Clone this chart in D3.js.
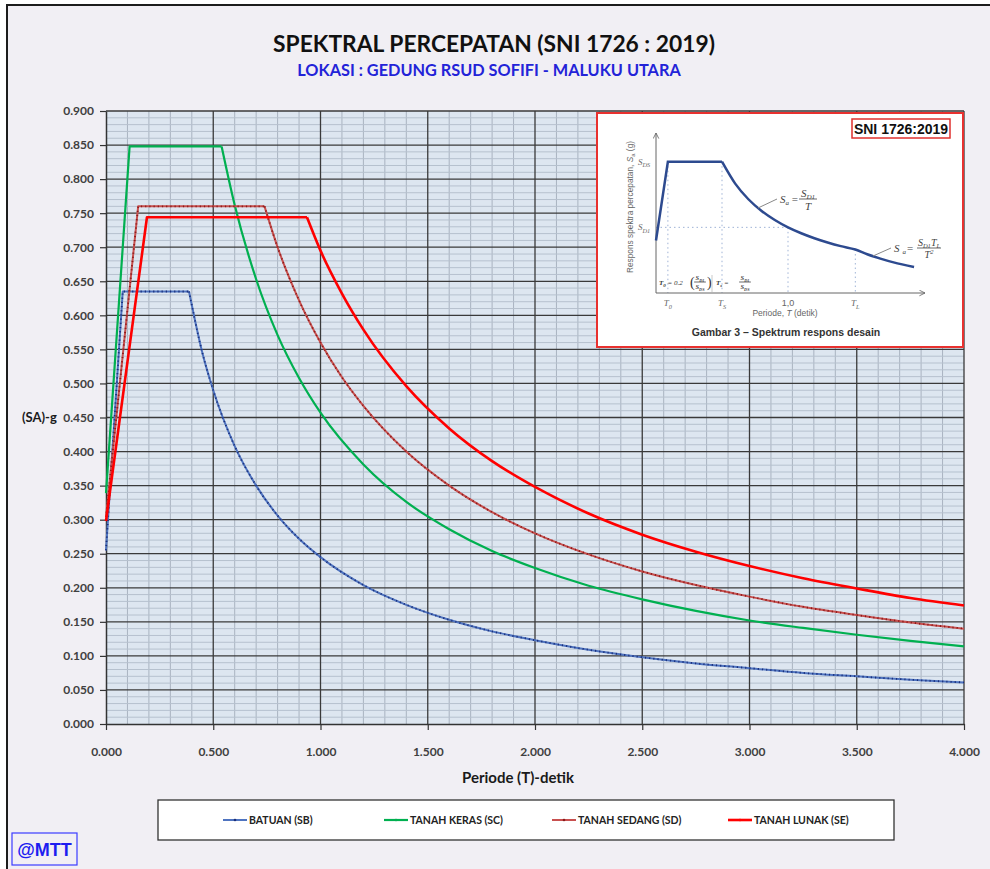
<!DOCTYPE html>
<html>
<head>
<meta charset="utf-8">
<script src="https://cdn.jsdelivr.net/npm/d3@7"></script>
<style>
  body { margin: 0; background: #ffffff; }
  svg { display: block; font-family: Lato, "Open Sans", sans-serif; }
</style>
</head>
<body>
<svg id="chart" width="990" height="869"></svg>
<script>
// [A] Data --------------------------------------------------------------------
const chartTitle = "SPEKTRAL PERCEPATAN (SNI 1726 : 2019)";
const chartSubtitle = "LOKASI : GEDUNG RSUD SOFIFI - MALUKU UTARA";
const seriesNames = ["BATUAN (SB)", "TANAH KERAS (SC)", "TANAH SEDANG (SD)", "TANAH LUNAK (SE)"];

// [T, SA] pairs; first three points = start, T0, Ts
const batuanSB = [[0, 0.255], [0.078, 0.635], [0.387, 0.635], [0.45, 0.544], [0.5, 0.490], [0.6, 0.408],
  [0.7, 0.350], [0.8, 0.306], [0.9, 0.272], [1.0, 0.245], [1.2, 0.204], [1.4, 0.175], [1.6, 0.153],
  [1.8, 0.136], [2.0, 0.123], [2.25, 0.109], [2.5, 0.098], [2.75, 0.089], [3.0, 0.082], [3.25, 0.075],
  [3.5, 0.070], [3.75, 0.065], [4.0, 0.061]];
const tanahKerasSC = [[0, 0.339], [0.110, 0.848], [0.539, 0.848], [0.6, 0.762], [0.7, 0.653], [0.8, 0.571],
  [0.9, 0.508], [1.0, 0.457], [1.2, 0.381], [1.4, 0.326], [1.6, 0.286], [1.8, 0.254], [2.0, 0.229],
  [2.25, 0.203], [2.5, 0.183], [2.75, 0.166], [3.0, 0.152], [3.25, 0.141], [3.5, 0.131], [3.75, 0.122],
  [4.0, 0.114]];
const tanahSedangSD = [[0, 0.304], [0.150, 0.760], [0.739, 0.760], [0.8, 0.700], [0.9, 0.622], [1.0, 0.560],
  [1.1, 0.509], [1.2, 0.467], [1.4, 0.400], [1.6, 0.350], [1.8, 0.311], [2.0, 0.280], [2.25, 0.249],
  [2.5, 0.224], [2.75, 0.204], [3.0, 0.187], [3.25, 0.172], [3.5, 0.160], [3.75, 0.149], [4.0, 0.140]];
const tanahLunakSE = [[0, 0.298], [0.191, 0.744], [0.937, 0.744], [1.0, 0.695], [1.1, 0.632], [1.2, 0.579],
  [1.4, 0.496], [1.6, 0.434], [1.8, 0.386], [2.0, 0.348], [2.25, 0.309], [2.5, 0.278], [2.75, 0.253],
  [3.0, 0.232], [3.25, 0.214], [3.5, 0.199], [3.75, 0.185], [4.0, 0.174]];

const xTicks = [0, 0.5, 1.0, 1.5, 2.0, 2.5, 3.0, 3.5, 4.0];
const yTicks = [0, 0.05, 0.10, 0.15, 0.20, 0.25, 0.30, 0.35, 0.40, 0.45, 0.50, 0.55, 0.60, 0.65, 0.70,
  0.75, 0.80, 0.85, 0.90];

// schematic design spectrum of the inset (T, Sa/SDS)
const insetCurve = [[0, 0.40], [0.09, 1.0], [0.5, 1.0], [0.6, 0.833], [0.7, 0.714], [0.8, 0.625],
  [0.9, 0.556], [1.0, 0.5], [1.1, 0.455], [1.2, 0.417], [1.3, 0.385], [1.4, 0.357], [1.51, 0.331],
  [1.6, 0.295], [1.7, 0.262], [1.8, 0.233], [1.955, 0.198]];
const insetMarks = { T0: 0.09, Ts: 0.5, one: 1.0, TL: 1.51, SDS: 1.0, SD1: 0.5 };

// [B] Layout ------------------------------------------------------------------
const width = 990;
const height = 869;
const plot = { left: 106, right: 964, top: 111, bottom: 724 };

const svg = d3.select("#chart");

const x = d3.scaleLinear().domain([0, 4]).range([plot.left, plot.right]);
const y = d3.scaleLinear().domain([0, 0.9]).range([plot.bottom, plot.top]);

const seriesStyle = [
  { data: batuanSB, color: "#4f74c0", dots: "#1b2f7a", w: 2 },
  { data: tanahKerasSC, color: "#00b050", dots: null, w: 2.2 },
  { data: tanahSedangSD, color: "#c8504f", dots: "#8a1a1a", w: 2 },
  { data: tanahLunakSE, color: "#ff0000", dots: null, w: 2.6 }
];

// [C] Background and titles -----------------------------------------------------
svg.append("rect")
  .attr("x", 7).attr("y", 5)
  .attr("width", width + 10).attr("height", height + 10)
  .attr("fill", "#f1eff4")
  .attr("stroke", "#1c1c1c").attr("stroke-width", 2);

svg.append("text")
  .attr("x", 494).attr("y", 52)
  .attr("text-anchor", "middle")
  .attr("font-size", 22.8).attr("font-weight", 700).attr("fill", "#111")
  .text(chartTitle);

svg.append("text")
  .attr("x", 489).attr("y", 76)
  .attr("text-anchor", "middle")
  .attr("font-size", 16.3).attr("font-weight", 700).attr("fill", "#2323d8")
  .text(chartSubtitle);

// [D] Plot area and grid ----------------------------------------------------------
svg.append("rect")
  .attr("x", plot.left).attr("y", plot.top)
  .attr("width", plot.right - plot.left).attr("height", plot.bottom - plot.top)
  .attr("fill", "#dde6f0");

const grid = svg.append("g");

// minor lines
grid.selectAll(".vminor")
  .data(d3.range(1, 40).map(i => i / 10).filter(v => Math.round(v * 10) % 5 !== 0))
  .join("line")
  .attr("x1", d => x(d)).attr("x2", d => x(d))
  .attr("y1", plot.top).attr("y2", plot.bottom)
  .attr("stroke", "#a9b3c0").attr("stroke-width", 1);

grid.selectAll(".hminor")
  .data(d3.range(1, 90).map(i => i / 100).filter((v, i) => (i + 1) % 5 !== 0))
  .join("line")
  .attr("x1", plot.left).attr("x2", plot.right)
  .attr("y1", d => y(d)).attr("y2", d => y(d))
  .attr("stroke", "#b6c1ce").attr("stroke-width", 1);

// major lines
grid.selectAll(".vmajor")
  .data(xTicks.slice(1))
  .join("line")
  .attr("x1", d => x(d)).attr("x2", d => x(d))
  .attr("y1", plot.top).attr("y2", plot.bottom)
  .attr("stroke", "#3a3a3a").attr("stroke-width", 1.3);

grid.selectAll(".hmajor")
  .data(yTicks.slice(1))
  .join("line")
  .attr("x1", plot.left).attr("x2", plot.right)
  .attr("y1", d => y(d)).attr("y2", d => y(d))
  .attr("stroke", "#3a3a3a").attr("stroke-width", 1.3);

// [E] Axes ---------------------------------------------------------------------
const xAxis = svg.append("g")
  .attr("transform", `translate(0,${plot.bottom})`)
  .call(d3.axisBottom(x).tickValues(xTicks).tickFormat(d3.format(".3f")).tickSize(6).tickSizeOuter(0));

const yAxis = svg.append("g")
  .attr("transform", `translate(${plot.left},0)`)
  .call(d3.axisLeft(y).tickValues(yTicks).tickFormat(d3.format(".3f")).tickSize(6).tickSizeOuter(0));

[xAxis, yAxis].forEach(ax => {
  ax.select(".domain").attr("stroke", "#333").attr("stroke-width", 1.5);
  ax.selectAll(".tick line").attr("stroke", "#333").attr("stroke-width", 1.2);
  ax.selectAll(".tick text")
    .attr("font-family", "Lato, sans-serif")
    .attr("font-size", 12).attr("font-weight", 700).attr("fill", "#404040");
});
xAxis.selectAll(".tick text").attr("dy", "1.9em");
yAxis.selectAll(".tick text").attr("x", -12);

svg.append("text")
  .attr("x", 518).attr("y", 783)
  .attr("text-anchor", "middle")
  .attr("font-size", 15).attr("font-weight", 700).attr("fill", "#1a1a1a")
  .text("Periode (T)-detik");

svg.append("text")
  .attr("x", 22).attr("y", 422)
  .attr("font-size", 13).attr("font-weight", 700).attr("fill", "#1a1a1a")
  .text("(SA)-g");

// [F] Series ---------------------------------------------------------------------
const riseLine = d3.line().x(d => x(d[0])).y(d => y(d[1]));
const fallLine = d3.line().x(d => x(d[0])).y(d => y(d[1])).curve(d3.curveMonotoneX);

const lines = svg.append("g").attr("fill", "none").attr("stroke-linejoin", "round");

seriesStyle.forEach(s => {
  const rise = s.data.slice(0, 3);
  const fall = s.data.slice(2);
  [[rise, riseLine], [fall, fallLine]].forEach(([pts, gen]) => {
    lines.append("path")
      .attr("d", gen(pts))
      .attr("stroke", s.color)
      .attr("stroke-width", s.w);
    if (s.dots) {
      lines.append("path")
        .attr("d", gen(pts))
        .attr("stroke", s.dots)
        .attr("stroke-width", 1.8)
        .attr("stroke-dasharray", "1.2 3");
    }
  });
});

// [G] Inset (SNI 1726:2019 design spectrum) ---------------------------------------
const inset = svg.append("g").attr("font-family", "'Liberation Sans', Arial, sans-serif");

inset.append("rect")
  .attr("x", 597).attr("y", 113).attr("width", 366).attr("height", 234)
  .attr("fill", "#ffffff").attr("stroke", "#e8312f").attr("stroke-width", 2);

inset.append("rect")
  .attr("x", 852).attr("y", 119).attr("width", 98).attr("height", 19)
  .attr("fill", "#fff").attr("stroke", "#e0302e").attr("stroke-width", 1.5);
inset.append("text")
  .attr("x", 901).attr("y", 134).attr("text-anchor", "middle")
  .attr("font-size", 14).attr("font-weight", 700).attr("fill", "#111")
  .text("SNI 1726:2019");

const ix = d3.scaleLinear().domain([0, 2]).range([656, 920]);
const iy = d3.scaleLinear().domain([0, 1]).range([293, 161.7]);

const defs = svg.append("defs");
defs.append("marker")
  .attr("id", "arrow").attr("viewBox", "0 0 10 10")
  .attr("refX", 9).attr("refY", 5)
  .attr("markerWidth", 7).attr("markerHeight", 7)
  .attr("orient", "auto")
  .append("path").attr("d", "M1,1 L9,5 L1,9")
  .attr("fill", "none").attr("stroke", "#666").attr("stroke-width", 1.2);

// guide lines
const guide = inset.append("g")
  .attr("stroke", "#9fb3d6").attr("stroke-width", 1).attr("stroke-dasharray", "1.5 3");
[insetMarks.T0, insetMarks.Ts].forEach(t => {
  guide.append("line").attr("x1", ix(t)).attr("x2", ix(t)).attr("y1", iy(insetMarks.SDS)).attr("y2", iy(0));
});
guide.append("line").attr("x1", ix(insetMarks.one)).attr("x2", ix(insetMarks.one))
  .attr("y1", iy(insetMarks.SD1)).attr("y2", iy(0));
guide.append("line").attr("x1", ix(insetMarks.TL)).attr("x2", ix(insetMarks.TL))
  .attr("y1", iy(0.331)).attr("y2", iy(0));
guide.append("line").attr("x1", ix(0)).attr("x2", ix(insetMarks.one))
  .attr("y1", iy(insetMarks.SD1)).attr("y2", iy(insetMarks.SD1));

// axes with arrows
inset.append("line")
  .attr("x1", ix(0)).attr("y1", iy(0)).attr("x2", ix(0)).attr("y2", 133)
  .attr("stroke", "#666").attr("stroke-width", 1).attr("marker-end", "url(#arrow)");
inset.append("line")
  .attr("x1", ix(0)).attr("y1", iy(0)).attr("x2", 925).attr("y2", iy(0))
  .attr("stroke", "#666").attr("stroke-width", 1).attr("marker-end", "url(#arrow)");

// curve
inset.append("path")
  .attr("d", d3.line().x(d => ix(d[0])).y(d => iy(d[1]))(insetCurve.slice(0, 3)))
  .attr("fill", "none").attr("stroke", "#2d4a8f").attr("stroke-width", 2.5);
inset.append("path")
  .attr("d", d3.line().x(d => ix(d[0])).y(d => iy(d[1])).curve(d3.curveMonotoneX)(insetCurve.slice(2)))
  .attr("fill", "none").attr("stroke", "#2d4a8f").attr("stroke-width", 2.5);

// axis labels
function subLabel(parent, px, py, main, sub, opts = {}) {
  const t = parent.append("text")
    .attr("x", px).attr("y", py)
    .attr("text-anchor", opts.anchor || "middle")
    .attr("font-family", opts.family || "'Liberation Serif', serif")
    .attr("font-style", "italic")
    .attr("font-size", opts.size || 9).attr("fill", opts.fill || "#666");
  t.append("tspan").text(main);
  t.append("tspan").attr("dy", 2.5).attr("font-size", (opts.size || 9) * 0.7).text(sub);
  return t;
}

subLabel(inset, 644, iy(insetMarks.SDS) + 3, "S", "DS");
subLabel(inset, 644, iy(insetMarks.SD1) + 3, "S", "D1");
subLabel(inset, ix(insetMarks.T0), 306, "T", "0");
subLabel(inset, ix(insetMarks.Ts), 306, "T", "S");
subLabel(inset, ix(insetMarks.TL), 306, "T", "L");
inset.append("text")
  .attr("x", ix(insetMarks.one)).attr("y", 306).attr("text-anchor", "middle")
  .attr("font-size", 9).attr("fill", "#666").text("1,0");

const xl = inset.append("text")
  .attr("x", 785).attr("y", 316).attr("text-anchor", "middle")
  .attr("font-size", 8.5).attr("fill", "#666");
xl.append("tspan").text("Periode, ");
xl.append("tspan").attr("font-style", "italic").text("T");
xl.append("tspan").text(" (detik)");

const yl = inset.append("text")
  .attr("transform", "translate(633,207) rotate(-90)")
  .attr("text-anchor", "middle")
  .attr("font-size", 8.3).attr("fill", "#666");
yl.append("tspan").text("Respons spektra percepatan, ");
yl.append("tspan").attr("font-style", "italic").text("S");
yl.append("tspan").attr("dy", 2).attr("font-size", 6).text("a");
yl.append("tspan").attr("dy", -2).text(" (g)");

inset.append("text")
  .attr("x", 786).attr("y", 336).attr("text-anchor", "middle")
  .attr("font-size", 10.5).attr("font-weight", 700).attr("fill", "#333")
  .text("Gambar 3 \u2013 Spektrum respons desain");

// formulas
function fraction(parent, cx, cy, numMain, numSub, den, size, bold, half) {
  const g = parent.append("g")
    .attr("font-family", "'Liberation Serif', serif")
    .attr("font-style", "italic").attr("font-weight", bold ? 700 : 400)
    .attr("fill", "#444").attr("text-anchor", "middle");
  const n = g.append("text").attr("x", cx).attr("y", cy - 2).attr("font-size", size);
  numMain.forEach((m, i) => {
    n.append("tspan").attr("dy", i ? -2 : 0).text(m);
    n.append("tspan").attr("dy", 2).attr("font-size", size * 0.65).text(numSub[i]);
  });
  const hw = half || size * 0.9;
  g.append("line")
    .attr("x1", cx - hw).attr("x2", cx + hw)
    .attr("y1", cy).attr("y2", cy)
    .attr("stroke", "#444").attr("stroke-width", 0.8);
  const d = g.append("text").attr("x", cx).attr("y", cy + size).attr("font-size", size);
  d.append("tspan").text(den[0]);
  if (den[1]) d.append("tspan").attr("dy", den[2] || 2).attr("font-size", size * 0.65).text(den[1]);
  return g;
}

const f1 = inset.append("text")
  .attr("x", 780).attr("y", 203).attr("font-family", "'Liberation Serif', serif")
  .attr("font-style", "italic").attr("font-size", 11).attr("fill", "#444");
f1.append("tspan").text("S");
f1.append("tspan").attr("dy", 2).attr("font-size", 7).text("a");
f1.append("tspan").attr("dy", -2).attr("font-style", "normal").text(" =");
fraction(inset, 808, 199, ["S"], ["D1"], ["T"], 11, false, 9);
inset.append("line").attr("x1", 758).attr("y1", 208).attr("x2", 777).attr("y2", 199)
  .attr("stroke", "#888").attr("stroke-width", 1);

const f2 = inset.append("text")
  .attr("x", 894).attr("y", 252).attr("font-family", "'Liberation Serif', serif")
  .attr("font-style", "italic").attr("font-size", 11).attr("fill", "#444");
f2.append("tspan").text("S");
f2.append("tspan").attr("dy", 2).attr("dx", 3).attr("font-size", 7).text("a");
f2.append("tspan").attr("dy", -2).attr("dx", 1).attr("font-style", "normal").text("=");
fraction(inset, 929, 248, ["S", "T"], ["D1", "L"], ["T", "2", -4], 10, false, 12);
inset.append("line").attr("x1", 873).attr("y1", 256).attr("x2", 891).attr("y2", 248)
  .attr("stroke", "#888").attr("stroke-width", 1);

const f3 = inset.append("text")
  .attr("x", 659).attr("y", 285).attr("font-family", "'Liberation Serif', serif")
  .attr("font-style", "italic").attr("font-weight", 700).attr("font-size", 7).attr("fill", "#333");
f3.append("tspan").text("T");
f3.append("tspan").attr("dy", 1.5).attr("font-size", 5).text("0");
f3.append("tspan").attr("dy", -1.5).attr("font-weight", 400).text(" = 0.2");
inset.append("text").attr("x", 690).attr("y", 287).attr("font-size", 14).attr("fill", "#333")
  .attr("font-family", "'Liberation Serif', serif").text("(");
fraction(inset, 700, 282, ["S"], ["D1"], ["S", "DS"], 6.5, true);
inset.append("text").attr("x", 707).attr("y", 287).attr("font-size", 14).attr("fill", "#333")
  .attr("font-family", "'Liberation Serif', serif").text(")");
inset.append("line").attr("x1", 712).attr("x2", 712).attr("y1", 275).attr("y2", 292)
  .attr("stroke", "#bbb").attr("stroke-width", 0.8);

const f4 = inset.append("text")
  .attr("x", 716).attr("y", 285).attr("font-family", "'Liberation Serif', serif")
  .attr("font-style", "italic").attr("font-weight", 700).attr("font-size", 7).attr("fill", "#333");
f4.append("tspan").text("T");
f4.append("tspan").attr("dy", 1.5).attr("font-size", 5).text("s");
f4.append("tspan").attr("dy", -1.5).attr("font-weight", 400).text(" =");
fraction(inset, 745, 282, ["S"], ["D1"], ["S", "DS"], 6.5, true);

// [H] Legend --------------------------------------------------------------------
svg.append("rect")
  .attr("x", 158).attr("y", 800).attr("width", 736).attr("height", 40)
  .attr("fill", "#ffffff").attr("stroke", "#333").attr("stroke-width", 1.3);

const legendX = [223, 384, 552, 728];
const legend = svg.append("g");
seriesStyle.forEach((s, i) => {
  const lx = legendX[i];
  legend.append("line")
    .attr("x1", lx).attr("x2", lx + 24).attr("y1", 820).attr("y2", 820)
    .attr("stroke", s.color).attr("stroke-width", s.w);
  legend.append("circle")
    .attr("cx", lx + 12).attr("cy", 820).attr("r", 1.3)
    .attr("fill", s.dots || s.color);
  legend.append("text")
    .attr("x", lx + 26).attr("y", 824)
    .attr("font-size", 10.5).attr("font-weight", 700).attr("fill", "#222")
    .text(seriesNames[i]);
});

// [I] Watermark -------------------------------------------------------------------
svg.append("rect")
  .attr("x", 12).attr("y", 833).attr("width", 65).attr("height", 32)
  .attr("fill", "none").attr("stroke", "#3b3bff").attr("stroke-width", 1.2);
svg.append("text")
  .attr("x", 44.5).attr("y", 856).attr("text-anchor", "middle")
  .attr("font-family", "'Liberation Sans', Arial, sans-serif")
  .attr("font-size", 18).attr("font-weight", 700).attr("fill", "#1d1df0")
  .text("@MTT");
</script>
</body>
</html>
